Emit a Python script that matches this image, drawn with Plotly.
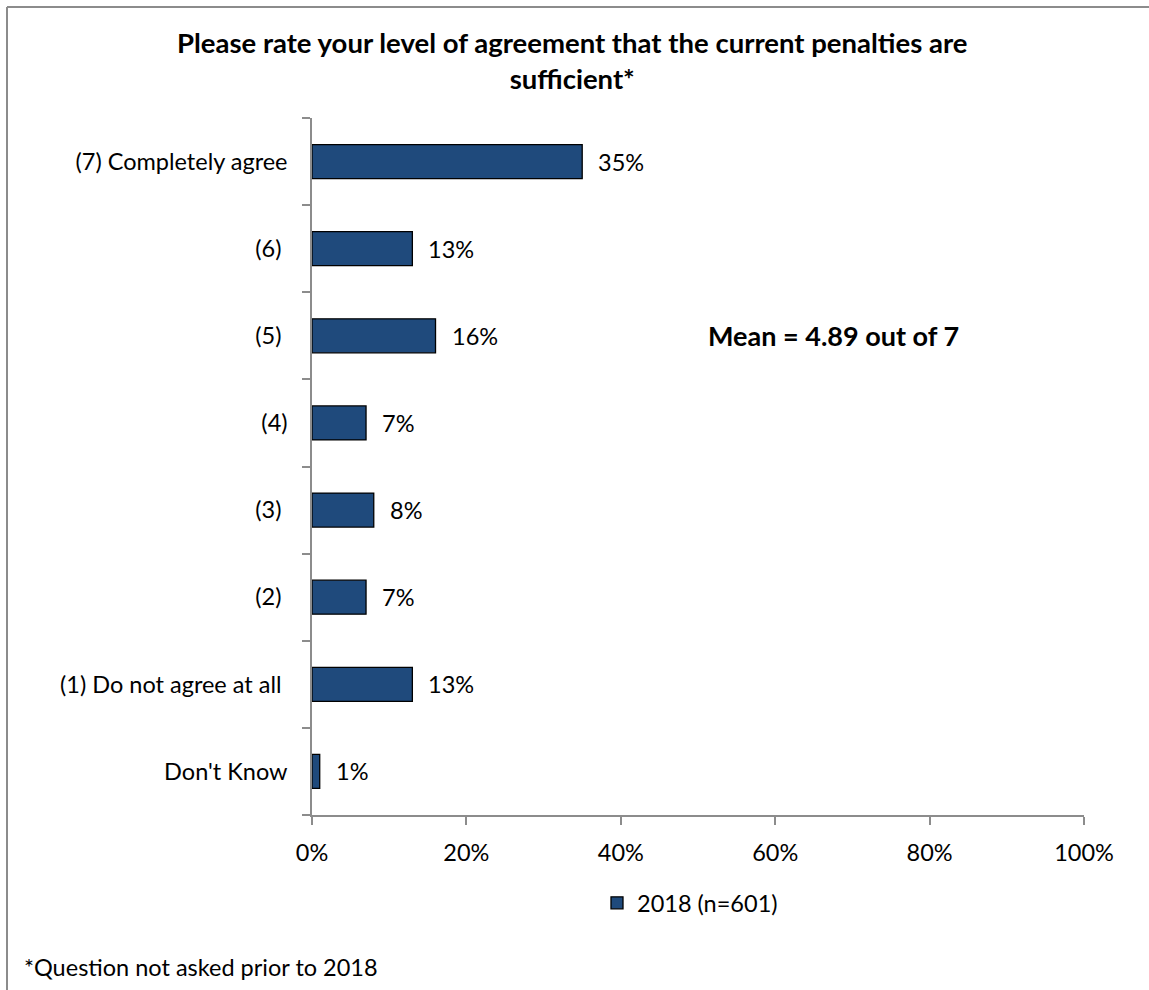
import plotly.graph_objects as go

# Survey responses (top to bottom)
categories = [
    "(7) Completely agree",
    "(6)",
    "(5)",
    "(4)",
    "(3)",
    "(2)",
    "(1) Do not agree at all",
    "Don't Know",
]
# Label padding used so some labels sit a little further from the axis
label_pad = [0, 1, 1, 0, 1, 1, 1, 0]
percent_2018 = [35, 13, 16, 7, 8, 7, 13, 1]
series_name = "2018 (n=601)"
x_ticks = [0, 20, 40, 60, 80, 100]
x_tick_labels = ["0%", "20%", "40%", "60%", "80%", "100%"]
mean_text = "Mean = 4.89 out of 7"
title_text = "Please rate your level of agreement that the current penalties are<br>sufficient*"
footnote = "*Question not asked prior to 2018"

FONT = "Lato, 'Open Sans', sans-serif"
FS = 23.5
BAR_COLOR = "#1f4a7c"
AXIS_COLOR = "#8c8c8c"

W, H = 1149, 990
L, R, T, B = 312, 65, 118, 175
pw, ph = W - L - R, H - T - B

fig = go.Figure()
fig.add_trace(go.Bar(
    x=percent_2018,
    y=categories,
    orientation="h",
    name=series_name,
    marker=dict(color=BAR_COLOR, line=dict(color="#000000", width=1.3)),
    hoverinfo="skip",
))

# Value labels beside each bar
annotations = []
for cat, v in zip(categories, percent_2018):
    annotations.append(dict(
        x=v, y=cat, xref="x", yref="y", text=f"{v}%", showarrow=False,
        xanchor="left", yanchor="middle", xshift=14,
        font=dict(family=FONT, size=FS, color="#000000"),
    ))

annotations.append(dict(
    x=67.5, y="(5)", xref="x", yref="y", text=f"<b>{mean_text}</b>",
    showarrow=False, xanchor="center", yanchor="middle",
    font=dict(family=FONT, size=27, color="#000000"),
))

annotations.append(dict(
    x=(22 - L) / pw, y=(H - B - 967) / ph, xref="paper", yref="paper",
    text=footnote, showarrow=False, xanchor="left", yanchor="middle",
    font=dict(family=FONT, size=FS, color="#000000"),
))

annotations.append(dict(
    x=(572 - L) / pw, y=(H - B - 61) / ph, xref="paper", yref="paper",
    text=f"<b>{title_text}</b>", showarrow=False, xanchor="center",
    yanchor="middle", align="center",
    font=dict(family=FONT, size=27.5, color="#000000"),
))

tick_text = [c + "\u00a0" * p for c, p in zip(categories, label_pad)]

# Outer chart frame (left and top edges)
fx0 = (7 - L) / pw
fy1 = (H - B - 7) / ph
shapes = [
    dict(type="line", xref="paper", yref="paper", x0=fx0, x1=fx0,
         y0=fy1, y1=-1.0, line=dict(color=AXIS_COLOR, width=2)),
    dict(type="line", xref="paper", yref="paper", x0=fx0, x1=1.5,
         y0=fy1, y1=fy1, line=dict(color=AXIS_COLOR, width=2)),
]

fig.update_layout(
    width=W, height=H, autosize=False,
    margin=dict(l=L, r=R, t=T, b=B, pad=0),
    paper_bgcolor="#ffffff", plot_bgcolor="#ffffff",
    bargap=0.61,
    showlegend=True,
    legend=dict(
        orientation="h", x=0.5 - 8 / pw, xanchor="center",
        y=(H - B - 903) / ph, yanchor="middle",
        font=dict(family=FONT, size=FS, color="#000000"),
        itemwidth=30,
    ),
    annotations=annotations,
    shapes=shapes,
    xaxis=dict(
        range=[0, 100], tickvals=x_ticks, ticktext=x_tick_labels,
        showgrid=False, zeroline=False, showline=True,
        linecolor=AXIS_COLOR, linewidth=1.5,
        ticks="outside", ticklen=8, tickcolor=AXIS_COLOR, tickwidth=1.5,
        tickfont=dict(family=FONT, size=FS, color="#000000"),
        ticklabelstandoff=8, fixedrange=True,
    ),
    yaxis=dict(
        autorange="reversed", categoryorder="array", categoryarray=categories,
        tickvals=categories, ticktext=tick_text,
        tickson="boundaries",
        showgrid=False, zeroline=False, showline=True,
        linecolor=AXIS_COLOR, linewidth=1.5,
        ticks="outside", ticklen=8, tickcolor=AXIS_COLOR, tickwidth=1.5,
        tickfont=dict(family=FONT, size=FS, color="#000000"),
        ticklabelstandoff=18, fixedrange=True,
    ),
    font=dict(family=FONT),
)

fig.write_html("out.html")
